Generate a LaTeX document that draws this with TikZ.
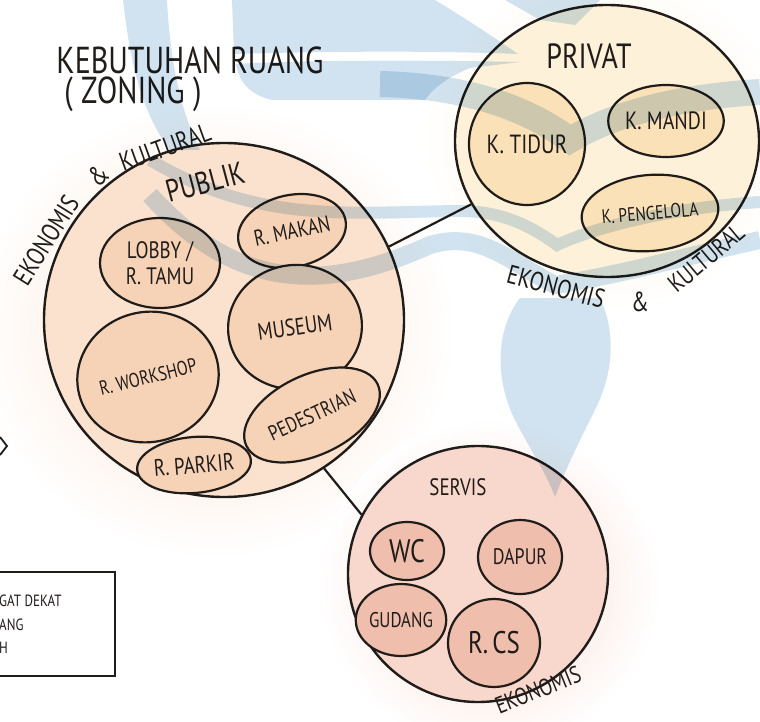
\documentclass[tikz,border=0pt]{standalone}
\usepackage{fontspec}
\setmainfont{PT Sans}
\usetikzlibrary{shapes.geometric}
\definecolor{pubfill}{RGB}{250,226,206}
\definecolor{pubin}{RGB}{246,210,182}
\definecolor{privfill}{RGB}{253,241,218}
\definecolor{privin}{RGB}{250,225,184}
\definecolor{servfill}{RGB}{248,216,204}
\definecolor{servin}{RGB}{240,190,172}
\definecolor{wm}{RGB}{165,201,227}
\definecolor{ink}{RGB}{32,28,26}
\newcommand\tallt[1]{\scalebox{1}[1.25]{#1}}
\newcommand\fs[1]{\fontsize{#1}{#1}\selectfont}
\tikzset{
  zone/.style={ellipse, draw=ink, line width=2.4pt, inner sep=0pt},
  room/.style={ellipse, draw=ink, line width=2.2pt, inner sep=0pt, text=ink,
     font=\fs{19}, align=center},
  lbl/.style={text=ink, inner sep=0pt, font=\fs{20}},
  conn/.style={draw=ink, line width=2.2pt},
  wmark/.style={fill=wm}
}
\begin{document}
\begin{tikzpicture}[x=1pt,y=-1pt]
\useasboundingbox (0,0) rectangle (760,722);
\fill[white] (0,0) rectangle (760,722);
% soft glows
\shade[inner color=pubfill, outer color=white] (215,330) ellipse (240pt and 228pt);
\shade[inner color=privfill, outer color=white] (607,141) ellipse (185pt and 170pt);
\shade[inner color=servfill, outer color=white] (490,585) ellipse (170pt and 165pt);
% zones
\node[zone, fill=pubfill, minimum width=360pt, minimum height=354pt] (publik) at (224,320) {};
\node[zone, fill=privfill, minimum width=304pt, minimum height=272pt] (privat) at (607,141) {};
\node[zone, fill=servfill, minimum width=260pt, minimum height=256pt] (servis) at (478,574) {};
% connectors
\draw[conn] (privat.205) -- (publik.24);
\draw[conn] (publik.-56) -- (servis.153);
% publik rooms
\node[room, fill=pubin, minimum width=120pt, minimum height=90pt, font=\fs{19}] (lobby) at (160,263) {\tallt{LOBBY /}\\[5pt]\tallt{R. TAMU}};
\node[room, fill=pubin, minimum width=104pt, minimum height=72pt, rotate=12, font=\fs{18}] (makan) at (292,231) {\tallt{R. MAKAN}};
\node[room, fill=pubin, minimum width=134pt, minimum height=124pt, rotate=8, font=\fs{19}] (museum) at (295,327) {\tallt{MUSEUM}};
\node[room, fill=pubin, minimum width=142pt, minimum height=130pt, rotate=14, font=\fs{16}] (workshop) at (148,377) {\tallt{R. WORKSHOP}};
\node[room, fill=pubin, minimum width=145pt, minimum height=80pt, rotate=25, font=\fs{17}] (pedestrian) at (312,415) {\tallt{PEDESTRIAN}};
\node[room, fill=pubin, minimum width=102pt, minimum height=56pt, rotate=5, font=\fs{19}] (parkir) at (194,465) {\tallt{R. PARKIR}};
% privat rooms
\node[room, fill=privin, minimum width=116pt, minimum height=122pt, font=\fs{21}] (tidur) at (527,144) {\tallt{K. TIDUR}};
\node[room, fill=privin, minimum width=102pt, minimum height=72pt, font=\fs{20}] (mandi) at (666,121) {\tallt{K. MANDI}};
\node[room, fill=privin, minimum width=116pt, minimum height=76pt, rotate=5, font=\fs{15.5}] (pengelola) at (650,213) {\tallt{K. PENGELOLA}};
% servis rooms
\node[room, fill=servin, minimum width=74pt, minimum height=58pt, font=\fs{26}] (wc) at (407,551) {\tallt{WC}};
\node[room, fill=servin, minimum width=84pt, minimum height=74pt, font=\fs{18}] (dapur) at (520,557) {\tallt{DAPUR}};
\node[room, fill=servin, minimum width=78pt, minimum height=72pt, font=\fs{17}] (gudang) at (401,620) {\tallt{GUDANG}};
\node[room, fill=servin, minimum width=92pt, minimum height=88pt, font=\fs{25}] (rcs) at (494,643) {\tallt{R.\,CS}};
% titles and labels
\node[lbl, font=\fs{30}] (title) at (190,60) {\tallt{KEBUTUHAN RUANG}};
\node[lbl, font=\fs{30}] (zoning) at (133,94) {\tallt{(\;ZONING\;)}};
\node[lbl, font=\fs{25}, rotate=15] (tpublik) at (205,182) {\tallt{PUBLIK}};
\node[lbl, font=\fs{28}] (tprivat) at (589,56) {\tallt{PRIVAT}};
\node[lbl, font=\fs{19}] (tservis) at (458,487) {\tallt{SERVIS}};
\node[lbl, rotate=58, font=\fs{21}] (pe1) at (46,240) {\tallt{EKONOMIS}};
\node[lbl, rotate=40, font=\fs{22}] (pe2) at (98,175) {\tallt{\&}};
\node[lbl, rotate=20, font=\fs{21}] (pe3) at (165,147) {\tallt{KULTURAL}};
\node[lbl, rotate=-15, font=\fs{21}] (re1) at (556,287) {\tallt{EKONOMIS}};
\node[lbl, font=\fs{22}] (re2) at (640,302) {\tallt{\&}};
\node[lbl, rotate=40, font=\fs{20}] (re3) at (706,258) {\tallt{KULTURAL}};
\node[lbl, rotate=22, font=\fs{19}] (se1) at (538,690) {\tallt{EKONOMIS}};
% legend (cut at left edge)
\draw[ink, line width=1.8pt] (-6,572) rectangle (115,676);
\node[lbl, anchor=west, font=\fs{13}] (lg1) at (-1,601) {\tallt{GAT DEKAT}};
\node[lbl, anchor=west, font=\fs{13}] (lg2) at (-1,625) {\tallt{ANG}};
\node[lbl, anchor=west, font=\fs{13}] (lg3) at (-1,648) {\tallt{H}};
\draw[ink, line width=1.8pt] (0,437) -- (7,446) -- (0,455);
% watermark
\begin{scope}[blend mode=multiply, opacity=0.5]
\fill[wmark] (123,0) .. controls (130,60) and (140,110) .. (170,150) -- (200,150) .. controls (180,110) and (170,60) .. (167,0) -- cycle;
\fill[wmark] (232,0) -- (435,0) .. controls (465,18) and (495,38) .. (518,54) .. controls (420,50) and (300,52) .. (234,54) -- cycle;
\fill[wmark] (236,64) .. controls (300,60) and (430,60) .. (520,62) -- (470,68) .. controls (445,78) and (432,90) .. (425,100) -- (272,100) .. controls (250,95) and (239,82) .. cycle;
\fill[wmark] (505,0) -- (600,0) -- (575,25) -- (540,20) -- cycle;
\draw[wm, line width=26pt] (380,84) .. controls (470,86) and (530,110) .. (570,140) .. controls (620,110) and (690,96) .. (760,92);
\draw[wm, line width=12pt] (150,160) .. controls (260,225) and (350,212) .. (460,211) .. controls (500,211) and (530,225) .. (557,245) .. controls (600,225) and (680,207) .. (760,202);
\draw[wm, line width=18pt] (150,195) .. controls (240,295) and (330,290) .. (430,245) .. controls (480,230) and (510,262) .. (555,285) .. controls (620,275) and (690,255) .. (760,240);
\fill[wmark] (520,298) .. controls (495,330) and (495,380) .. (515,420) .. controls (530,450) and (545,470) .. (555,497) .. controls (565,470) and (580,440) .. (595,410) .. controls (615,370) and (615,330) .. (600,298) -- cycle;
\end{scope}
\end{tikzpicture}
\end{document}
